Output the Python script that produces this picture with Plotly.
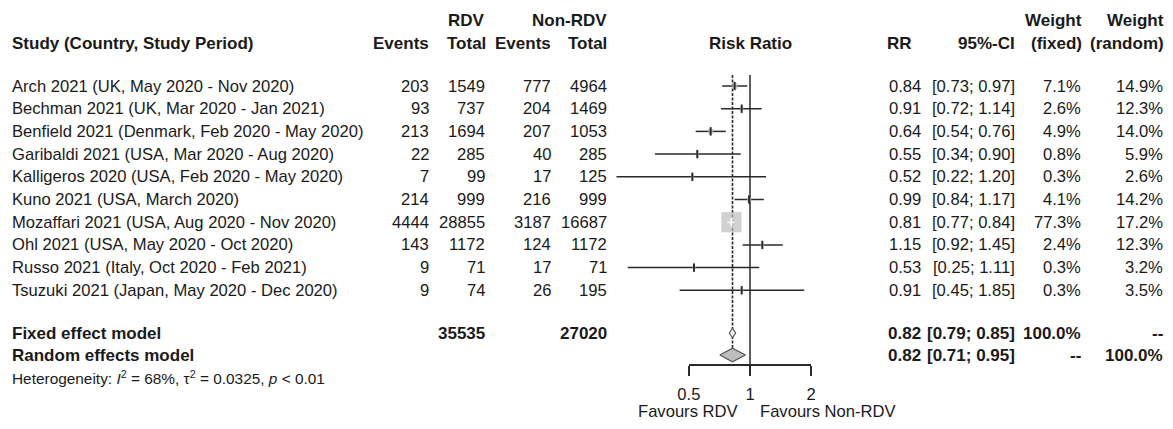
import math
import plotly.graph_objects as go

# ---------------- data ----------------
studies = [
    "Arch 2021 (UK, May 2020 - Nov 2020)",
    "Bechman 2021 (UK, Mar 2020 - Jan 2021)",
    "Benfield 2021 (Denmark, Feb 2020 - May 2020)",
    "Garibaldi 2021 (USA, Mar 2020 - Aug 2020)",
    "Kalligeros 2020 (USA, Feb 2020 - May 2020)",
    "Kuno 2021 (USA, March 2020)",
    "Mozaffari 2021 (USA, Aug 2020 - Nov 2020)",
    "Ohl 2021 (USA, May 2020 - Oct 2020)",
    "Russo 2021 (Italy, Oct 2020 - Feb 2021)",
    "Tsuzuki 2021 (Japan, May 2020 - Dec 2020)",
]
ev_rdv = [203, 93, 213, 22, 7, 214, 4444, 143, 9, 9]
tot_rdv = [1549, 737, 1694, 285, 99, 999, 28855, 1172, 71, 74]
ev_non = [777, 204, 207, 40, 17, 216, 3187, 124, 17, 26]
tot_non = [4964, 1469, 1053, 285, 125, 999, 16687, 1172, 71, 195]
rr = [0.84, 0.91, 0.64, 0.55, 0.52, 0.99, 0.81, 1.15, 0.53, 0.91]
ci_lo = [0.73, 0.72, 0.54, 0.34, 0.22, 0.84, 0.77, 0.92, 0.25, 0.45]
ci_hi = [0.97, 1.14, 0.76, 0.90, 1.20, 1.17, 0.84, 1.45, 1.11, 1.85]
w_fixed = [7.1, 2.6, 4.9, 0.8, 0.3, 4.1, 77.3, 2.4, 0.3, 0.3]
w_random = [14.9, 12.3, 14.0, 5.9, 2.6, 14.2, 17.2, 12.3, 3.2, 3.5]

fixed_rr, fixed_lo, fixed_hi = 0.82, 0.79, 0.85
random_rr, random_lo, random_hi = 0.82, 0.71, 0.95
total_rdv_n = 35535
total_non_n = 27020
total_weight = "100.0%"
axis_ticks = [0.5, 1, 2]
axis_ticktext = ["0.5", "1", "2"]
label_left = "Favours RDV"
label_right = "Favours Non-RDV"

# ---------------- layout constants ----------------
W, H = 1173, 429
PITCH = 22.7          # px per row
ROW0_PX = 86          # pixel of first study row
X1_PX = 750           # pixel of RR = 1
DECADE_PX = 203       # px per decade on log scale

FONT = "Liberation Sans, Arial, sans-serif"
FS = 16.6
FSB = 17
TXT = "#1a1a1a"
LINE = "#2a2a2a"
GREY = "#bdbdbd"

def row_of_px(px):
    return (px - ROW0_PX) / PITCH

rows = list(range(len(studies)))
row_fixed = row_of_px(333)
row_random = row_of_px(355)
row_het = row_of_px(377)
row_h1 = row_of_px(20)
row_h2 = row_of_px(43)
row_top_line = row_of_px(75)
row_favours = row_of_px(411)
axis_px = 365

fig = go.Figure()

# reference line at RR=1
fig.add_trace(go.Scatter(x=[1, 1], y=[row_top_line, row_of_px(axis_px)], mode="lines",
                         line=dict(color=LINE, width=1.5), hoverinfo="skip", showlegend=False))
# dashed line at fixed estimate
fig.add_trace(go.Scatter(x=[fixed_rr, fixed_rr], y=[row_top_line, row_random - 0.3], mode="lines",
                         line=dict(color=LINE, width=1.6, dash="3px,1.5px"), hoverinfo="skip", showlegend=False))

# CI lines
cx, cy = [], []
for r, lo, hi in zip(rows, ci_lo, ci_hi):
    cx += [lo, hi, None]
    cy += [r, r, None]
fig.add_trace(go.Scatter(x=cx, y=cy, mode="lines", line=dict(color=LINE, width=1.5),
                         hoverinfo="skip", showlegend=False))

# squares (area proportional to fixed weight)
sizes = [max(2.3 * math.sqrt(w), 3) for w in w_fixed]
fig.add_trace(go.Scatter(x=rr, y=rows, mode="markers",
                         marker=dict(symbol="square", size=sizes, color=GREY, line=dict(width=0)),
                         hoverinfo="skip", showlegend=False))

# CI lines inside big squares drawn white
inside = [w > 50 for w in w_fixed]
wx, wy = [], []
for r, lo, hi, ins in zip(rows, ci_lo, ci_hi, inside):
    if ins:
        wx += [lo, hi, None]
        wy += [r, r, None]
fig.add_trace(go.Scatter(x=wx, y=wy, mode="lines", line=dict(color="white", width=1.5),
                         hoverinfo="skip", showlegend=False))
# point estimate ticks
fig.add_trace(go.Scatter(x=rr, y=rows, mode="markers",
                         marker=dict(symbol="line-ns", size=6,
                                     line=dict(color=["white" if i else LINE for i in inside], width=2)),
                         hoverinfo="skip", showlegend=False))

# diamonds
def diamond(est, lo, hi, row, half, fill):
    fig.add_trace(go.Scatter(x=[lo, est, hi, est, lo], y=[row, row - half, row, row + half, row],
                             mode="lines", fill="toself", fillcolor=fill,
                             line=dict(color="#555555", width=1.2),
                             hoverinfo="skip", showlegend=False))

diamond(fixed_rr, fixed_lo, fixed_hi, row_fixed, 0.21, "#f4f4f4")
diamond(random_rr, random_lo, random_hi, row_random, 0.3, GREY)

# invisible trace for axis 2
fig.add_trace(go.Scatter(x=[axis_ticks[0], axis_ticks[-1]], y=[row_of_px(axis_px)] * 2,
                         xaxis="x2", yaxis="y", mode="lines", opacity=0,
                         hoverinfo="skip", showlegend=False))

# ---------------- text ----------------
ann = []

def put(text, xpx, row, anchor="right", bold=False, size=None):
    t = f"<b>{text}</b>" if bold else text
    if size is None:
        size = FSB if bold else FS
    ann.append(dict(text=t, x=xpx / W, xref="paper", y=row, yref="y",
                    xanchor=anchor, yanchor="middle", showarrow=False,
                    font=dict(family=FONT, size=size, color=TXT)))

# headers
put("RDV", 487, row_h1, bold=True)
put("Non-RDV", 609, row_h1, bold=True)
put("Weight", 1084, row_h1, bold=True)
put("Weight", 1166, row_h1, bold=True)
put("Study (Country, Study Period)", 10, row_h2, anchor="left", bold=True)
put("Events", 431, row_h2, bold=True)
put("Total", 488, row_h2, bold=True)
put("Events", 553, row_h2, bold=True)
put("Total", 609, row_h2, bold=True)
put("Risk Ratio", X1_PX, row_h2, anchor="center", bold=True)
put("RR", 914, row_h2, bold=True)
put("95%-CI", 1017, row_h2, bold=True)
put("(fixed)", 1084, row_h2, bold=True)
put("(random)", 1166, row_h2, bold=True)

for i, r in enumerate(rows):
    put(studies[i], 10, r, anchor="left")
    put(str(ev_rdv[i]), 431, r)
    put(str(tot_rdv[i]), 487, r)
    put(str(ev_non[i]), 553, r)
    put(str(tot_non[i]), 609, r)
    put(f"{rr[i]:.2f}", 923, r)
    put(f"[{ci_lo[i]:.2f}; {ci_hi[i]:.2f}]", 1017, r)
    put(f"{w_fixed[i]:.1f}%", 1083, r)
    put(f"{w_random[i]:.1f}%", 1165, r)

put("Fixed effect model", 10, row_fixed, anchor="left", bold=True)
put(str(total_rdv_n), 487, row_fixed, bold=True)
put(str(total_non_n), 609, row_fixed, bold=True)
put(f"{fixed_rr:.2f}", 923, row_fixed, bold=True)
put(f"[{fixed_lo:.2f}; {fixed_hi:.2f}]", 1017, row_fixed, bold=True)
put(total_weight, 1083, row_fixed, bold=True)
put("--", 1165, row_fixed, bold=True)

put("Random effects model", 10, row_random, anchor="left", bold=True)
put(f"{random_rr:.2f}", 923, row_random, bold=True)
put(f"[{random_lo:.2f}; {random_hi:.2f}]", 1017, row_random, bold=True)
put("--", 1083, row_random, bold=True)
put(total_weight, 1165, row_random, bold=True)

put("Heterogeneity: <i>I</i><sup>2</sup> = 68%, τ<sup>2</sup> = 0.0325, <i>p</i> &lt; 0.01",
    10, row_het, anchor="left", size=15.4)

# favours labels (either side of RR = 1)
ann.append(dict(text=label_left, x=math.log10(1), xref="x", xshift=-10, y=row_favours, yref="y",
                xanchor="right", yanchor="middle", showarrow=False,
                font=dict(family=FONT, size=FS, color=TXT)))
ann.append(dict(text=label_right, x=math.log10(1), xref="x", xshift=8, y=row_favours, yref="y",
                xanchor="left", yanchor="middle", showarrow=False,
                font=dict(family=FONT, size=FS, color=TXT)))

x_left = math.log10(1) - X1_PX / DECADE_PX
x_right = (W - X1_PX) / DECADE_PX
x2_left_px = X1_PX + DECADE_PX * math.log10(axis_ticks[0])
x2_right_px = X1_PX + DECADE_PX * math.log10(axis_ticks[-1])

fig.update_layout(
    template="none",
    width=W, height=H, autosize=False,
    margin=dict(l=0, r=0, t=0, b=0, pad=0, autoexpand=False),
    paper_bgcolor="white", plot_bgcolor="rgba(0,0,0,0)",
    showlegend=False,
    xaxis=dict(type="log", domain=[0, 1], range=[x_left, x_right], visible=False,
               showgrid=False, zeroline=False, automargin=False),
    yaxis=dict(domain=[0, 1], range=[row_of_px(H), row_of_px(0)], visible=False,
               showgrid=False, zeroline=False, automargin=False),
    xaxis2=dict(type="log", domain=[x2_left_px / W, x2_right_px / W],
                range=[math.log10(axis_ticks[0]), math.log10(axis_ticks[-1])],
                anchor="free", position=1 - axis_px / H, automargin=False,
                tickmode="array", tickvals=axis_ticks, ticktext=axis_ticktext,
                ticks="outside", ticklen=10, tickwidth=1.5, tickcolor=LINE,
                showline=True, linecolor=LINE, linewidth=1.5,
                showgrid=False, zeroline=False, ticklabelstandoff=4,
                tickfont=dict(family=FONT, size=FS, color=TXT)),
    annotations=ann,
)

fig.write_html("out.html", config={"displayModeBar": False},
               post_script="document.body.style.margin='0';")
